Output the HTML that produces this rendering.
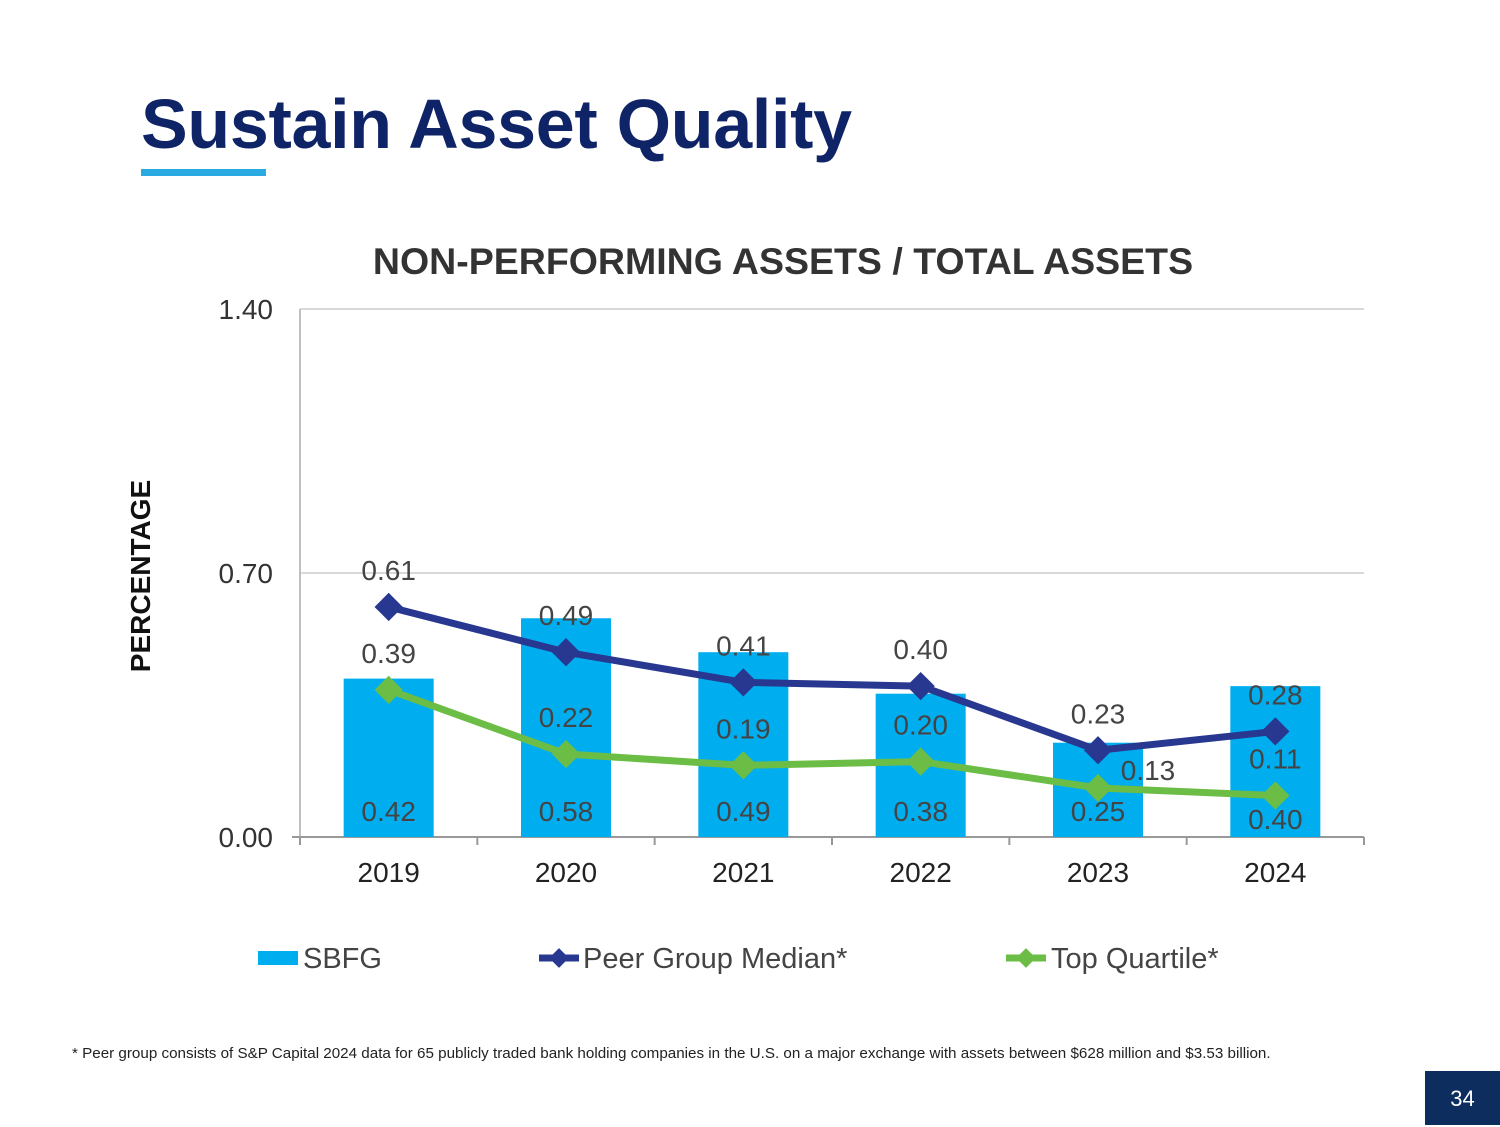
<!DOCTYPE html>
<html><head><meta charset="utf-8"><style>
body{margin:0;width:1500px;height:1125px;background:#fff;overflow:hidden;font-family:"Liberation Sans",sans-serif;position:relative}
</style></head><body>
<div style="position:absolute;left:141px;top:84px;font-size:70px;font-weight:bold;color:#0f2367;letter-spacing:-0.3px">Sustain Asset Quality</div>
<div style="position:absolute;left:141px;top:169px;width:125px;height:7px;background:#29abe2"></div>
<svg id="chart" width="1500" height="1125" style="position:absolute;left:0;top:0"></svg>
<div style="position:absolute;left:72px;top:1045px;font-size:15.2px;color:#222;white-space:nowrap">* Peer group consists of S&amp;P Capital 2024 data for 65 publicly traded bank holding companies in the U.S. on a major exchange with assets between $628 million and $3.53 billion.</div>
<div style="position:absolute;left:1425px;top:1071px;width:75px;height:54px;background:#0d2d5e;color:#fff;font-size:22px;text-align:center;line-height:56px">34</div>
<script>
const categories=["2019","2020","2021","2022","2023","2024"];
const sbfg=[0.42,0.58,0.49,0.38,0.25,0.40];
const peer=[0.61,0.49,0.41,0.40,0.23,0.28];
const top4=[0.39,0.22,0.19,0.20,0.13,0.11];
const yTicks=[0,0.70,1.40];
const yTickLabels=["0.00","0.70","1.40"];
const svg=document.getElementById('chart');
const NS='http://www.w3.org/2000/svg';
const X0=300,X1=1364,Y0=837,Y1=309,YMAX=1.4;
const bw=(X1-X0)/categories.length;
const x=i=>X0+bw*(i+0.5);
const y=v=>Y0-(v/YMAX)*(Y0-Y1);
function mk(tag,attrs,name,txt){const e=document.createElementNS(NS,tag);for(const k in attrs)e.setAttribute(k,attrs[k]);


if(txt!==undefined)e.textContent=txt;svg.appendChild(e);return e;}
mk('text',{x:783,y:274,'text-anchor':'middle','font-size':37.5,'font-weight':'bold',fill:'#333'},'chart-title','NON-PERFORMING ASSETS / TOTAL ASSETS');
mk('text',{x:0,y:0,transform:'translate(150,576) rotate(-90)','text-anchor':'middle','font-size':28,'font-weight':'bold',fill:'#111'},'y-axis-title','PERCENTAGE');
yTicks.forEach((t,i)=>{
 if(t>0)mk('line',{x1:X0,x2:X1,y1:y(t),y2:y(t),stroke:'#d9d9d9','stroke-width':2},'gridline');
 mk('text',{x:273,y:y(t)+10,'text-anchor':'end','font-size':28,fill:'#333'},'y-tick-label',yTickLabels[i]);
});
mk('line',{x1:X0,x2:X0,y1:Y1,y2:Y0+8,stroke:'#bfbfbf','stroke-width':2},'y-axis');
mk('line',{x1:X0-8,x2:X1,y1:Y0,y2:Y0,stroke:'#999','stroke-width':2},'x-axis');
for(let i=0;i<=categories.length;i++)mk('line',{x1:X0+bw*i,x2:X0+bw*i,y1:Y0,y2:Y0+8,stroke:'#999','stroke-width':2},'x-tick');
categories.forEach((c,i)=>mk('text',{x:x(i),y:882,'text-anchor':'middle','font-size':28,fill:'#222'},'x-tick-label',c));
sbfg.forEach((v,i)=>mk('rect',{x:x(i)-45,y:y(v),width:90,height:Y0-y(v),fill:'#00aeef'},'bar-sbfg-'+categories[i]));
function line(vals,col,name){
 mk('polyline',{points:vals.map((v,i)=>x(i)+','+y(v)).join(' '),fill:'none',stroke:col,'stroke-width':7},name+'-line');
 vals.forEach((v,i)=>mk('rect',{x:x(i)-10,y:y(v)-10,width:20,height:20,fill:col,transform:`rotate(45 ${x(i)} ${y(v)})`},name+'-point'));
}
line(peer,'#283891','peer-median');
line(top4,'#6cbd45','top-quartile');
sbfg.forEach((v,i)=>mk('text',{x:x(i),y:i==5?829:821,'text-anchor':'middle','font-size':28,fill:'#444'},'sbfg-value-label',v.toFixed(2)));
peer.forEach((v,i)=>mk('text',{x:x(i),y:y(v)-27,'text-anchor':'middle','font-size':28,fill:'#444'},'peer-value-label',v.toFixed(2)));
top4.forEach((v,i)=>mk('text',{x:x(i)+(i==4?50:0),y:y(v)-(i==4?8:27),'text-anchor':'middle','font-size':28,fill:'#444'},'top-quartile-value-label',v.toFixed(2)));
// legend
mk('rect',{x:258,y:951,width:40,height:14,fill:'#00aeef'},'legend-sbfg-swatch');
mk('text',{x:303,y:968,'font-size':29,fill:'#444'},'legend-sbfg-label','SBFG');
mk('line',{x1:539,x2:579,y1:958,y2:958,stroke:'#283891','stroke-width':7},'legend-peer-swatch');
mk('rect',{x:552,y:951,width:14,height:14,fill:'#283891',transform:'rotate(45 559 958)'},'legend-peer-marker');
mk('text',{x:583,y:968,'font-size':29,fill:'#444'},'legend-peer-label','Peer Group Median*');
mk('line',{x1:1006,x2:1046,y1:958,y2:958,stroke:'#6cbd45','stroke-width':7},'legend-top-swatch');
mk('rect',{x:1019,y:951,width:14,height:14,fill:'#6cbd45',transform:'rotate(45 1026 958)'},'legend-top-marker');
mk('text',{x:1051,y:968,'font-size':29,fill:'#444'},'legend-top-label','Top Quartile*');
</script>
</body></html>
